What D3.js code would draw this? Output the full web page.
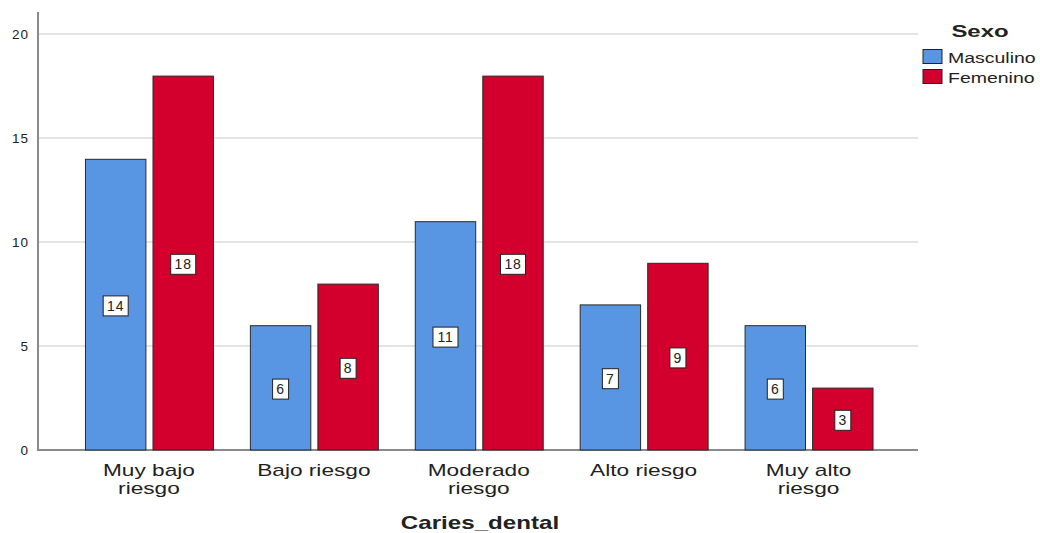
<!DOCTYPE html>
<html>
<head>
<meta charset="utf-8">
<script src="https://cdn.jsdelivr.net/npm/d3@7"></script>
<style>
  html, body { margin: 0; padding: 0; background: #fff; }
  svg text { font-family: "Liberation Sans", Arial, sans-serif; fill: #222; }
</style>
</head>
<body>
<svg id="chart" width="1040" height="533"></svg>
<script>
// Data
const categories = [["Muy bajo", "riesgo"], ["Bajo riesgo"], ["Moderado", "riesgo"], ["Alto riesgo"], ["Muy alto", "riesgo"]];
const categoryKeys = ["Muy bajo riesgo", "Bajo riesgo", "Moderado riesgo", "Alto riesgo", "Muy alto riesgo"];
const series = ["Masculino", "Femenino"];
const masculino = [14, 6, 11, 7, 6];
const femenino = [18, 8, 18, 9, 3];
const yTicks = [0, 5, 10, 15, 20];
const colors = ["#5896e4", "#d3002e"];

const svg = d3.select("#chart");

const y = d3.scaleLinear().domain([0, 20]).range([450, 34]);
const x0 = d3.scaleBand().domain(categoryKeys).range([66.5, 891])
  .paddingInner(0.224).paddingOuter(0.112);
const x1 = d3.scaleBand().domain(series).range([0, x0.bandwidth()]).paddingInner(0.105);

// Text drawn with a wide horizontal proportion
function wideText(sel, x, y, sx) {
  return sel.append("g").attr("transform", `translate(${x},${y}) scale(${sx},1)`).append("text");
}

// Gridlines
svg.append("g").selectAll("line").data(yTicks.filter(d => d > 0)).join("line")
  .attr("x1", 38).attr("x2", 918)
  .attr("y1", d => y(d)).attr("y2", d => y(d))
  .attr("stroke", "#c9c9c9").attr("stroke-width", 1);

// Y axis
const yAxis = svg.append("g").attr("transform", "translate(38,0)")
  .call(d3.axisLeft(y).tickValues(yTicks).tickSize(0).tickPadding(9));
yAxis.select(".domain").remove();
yAxis.selectAll("text").attr("font-size", 13.5).attr("letter-spacing", 1)
  .attr("font-family", "Liberation Sans, Arial, sans-serif").attr("fill", "#222");
svg.append("line").attr("x1", 38).attr("x2", 38).attr("y1", 12).attr("y2", 451)
  .attr("stroke", "#8a8a8a").attr("stroke-width", 2);
svg.append("line").attr("x1", 37).attr("x2", 918).attr("y1", 450).attr("y2", 450)
  .attr("stroke", "#8a8a8a").attr("stroke-width", 2);

// Bars
const rows = categoryKeys.map((k, i) => ({ key: k, values: [masculino[i], femenino[i]] }));
const groups = svg.append("g").selectAll("g").data(rows).join("g")
  .attr("transform", d => `translate(${x0(d.key)},0)`);

groups.selectAll("rect").data(d => d.values.map((v, j) => ({ s: series[j], v, j }))).join("rect")
  .attr("x", d => x1(d.s) + 0.5)
  .attr("y", d => y(d.v) + 0.5)
  .attr("width", x1.bandwidth())
  .attr("height", d => y(0) - y(d.v) - 0.5)
  .attr("fill", d => colors[d.j])
  .attr("stroke", "#2a2a2a").attr("stroke-width", 1);

// Value labels
const lab = groups.selectAll("g.lab").data(d => d.values.map((v, j) => ({ s: series[j], v, j }))).join("g")
  .attr("class", "lab")
  .attr("transform", d => `translate(${x1(d.s) + x1.bandwidth() / 2 + 0.5},${(y(d.v) + y(0)) / 2 + 1.5})`);
lab.append("rect")
  .attr("x", d => String(d.v).length > 1 ? -12.5 : -8)
  .attr("width", d => String(d.v).length > 1 ? 25 : 16)
  .attr("y", -10).attr("height", 20)
  .attr("fill", "#fff").attr("stroke", "#222").attr("stroke-width", 1);
lab.append("text").attr("text-anchor", "middle").attr("dy", "0.36em")
  .attr("font-size", 14).attr("letter-spacing", 0.8)
  .text(d => d.v);

// Category labels
categories.forEach((lines, i) => {
  const cx = x0(categoryKeys[i]) + x0.bandwidth() / 2;
  lines.forEach((line, k) => {
    wideText(svg, cx, 476 + k * 17.5, 1.4)
      .attr("text-anchor", "middle")
      .attr("font-size", 16.2)
      .text(line);
  });
});

// Axis title
wideText(svg, 480, 529, 1.38)
  .attr("text-anchor", "middle")
  .attr("font-size", 17.5).attr("font-weight", "bold")
  .text("Caries_dental");

// Legend
wideText(svg, 980, 37, 1.45)
  .attr("text-anchor", "middle")
  .attr("font-size", 16.5).attr("font-weight", "bold")
  .text("Sexo");
const li = svg.append("g").selectAll("g.item").data(series).join("g").attr("class", "item")
  .attr("transform", (d, i) => `translate(923,${49.5 + i * 20})`);
li.append("rect").attr("width", 19).attr("height", 14)
  .attr("fill", (d, i) => colors[i]).attr("stroke", "#222").attr("stroke-width", 1);
li.each(function (d) {
  wideText(d3.select(this), 25, 13, 1.3)
    .attr("font-size", 15)
    .text(d);
});
</script>
</body>
</html>
